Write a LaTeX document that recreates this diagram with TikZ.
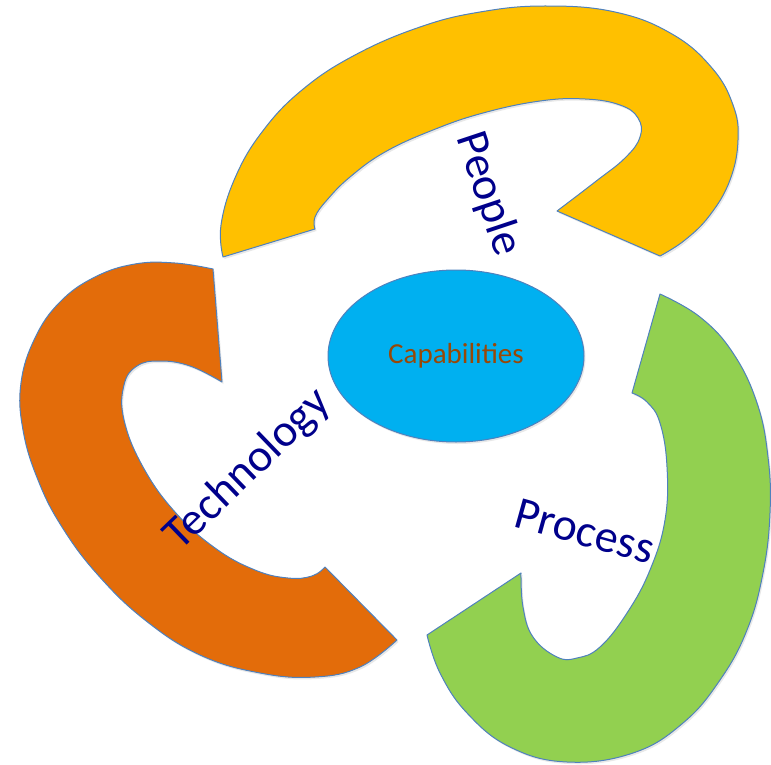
\documentclass[tikz,border=0pt]{standalone}
\usepackage{fontspec}
\setmainfont{Carlito}
\usetikzlibrary{shapes.geometric,shadows}
\definecolor{yel}{HTML}{FFC000}
\definecolor{org}{HTML}{E36C0A}
\definecolor{grn}{HTML}{92D050}
\definecolor{blu}{HTML}{00B0F0}
\definecolor{edgeblue}{HTML}{4F81BD}
\definecolor{navy}{HTML}{00008B}
\definecolor{brn}{HTML}{984807}
\begin{document}
\begin{tikzpicture}[x=1pt,y=-1pt,
  band/.style={draw=edgeblue, line width=1pt, line join=round,
    drop shadow={opacity=0.18, shadow xshift=1.5pt, shadow yshift=-2pt}},
  lbl/.style={text=navy, font=\fontsize{46}{55}\selectfont, inner sep=0pt}]
\useasboundingbox (0,0) rectangle (771,765);
% People band (yellow)
\path[band, fill=yel]
  plot[smooth, tension=0.7] coordinates {(223,257) (221,225) (235,178) (262,132) (302,90) (355,55) (420,27) (480,12) (545,6) (615,12) (672,34) (712,68) (733,105) (738,140) (730,180) (710,215) (685,240) (660,256)}
  -- plot[smooth, tension=0.7] coordinates {(557,211) (595,182) (625,158) (640,137) (638,118) (620,105) (585,99) (540,101) (483,113) (433,130) (385,152) (350,177) (327,200) (315,217) (315,229)}
  -- cycle;
% Technology band (orange)
\path[band, fill=org]
  plot[smooth, tension=0.7] coordinates {(213,269) (175,263) (135,264) (95,277) (60,302) (35,338) (21,383) (23,430) (38,480) (62,527) (98,575) (145,620) (200,655) (260,673) (315,677) (360,667) (397,640)}
  -- plot[smooth, tension=0.7] coordinates {(325,567) (312,576) (288,578) (255,570) (215,548) (175,512) (143,467) (124,420) (124,385) (137,366) (160,361) (190,366) (222,382)}
  -- cycle;
% Process band (green)
\path[band, fill=grn]
  plot[smooth, tension=0.7] coordinates {(660,294) (700,317) (733,353) (757,403) (768,457) (770,513) (763,573) (747,630) (720,680) (683,723) (633,753) (567,762) (510,747) (467,713) (440,673) (427,635)}
  -- plot[smooth, tension=0.7] coordinates {(521,573) (523,607) (533,637) (557,657) (577,658) (600,647) (627,613) (650,570) (665,520) (667,467) (660,423) (647,402) (632,393)}
  -- cycle;
% Centre
\node[ellipse, draw=edgeblue, line width=1pt, fill=blu, minimum width=256pt, minimum height=172pt, inner sep=0pt,
  drop shadow={opacity=0.18, shadow xshift=1.5pt, shadow yshift=-2pt},
  text=brn, font=\fontsize{29}{35}\selectfont] (cap) at (456,356) {Capabilities};
% Labels
\node[lbl, rotate=-71.6] (people) at (488,194) {People};
\node[lbl, rotate=44] (tech) at (248,470) {Technology};
\node[lbl, rotate=-15.5] (proc) at (585,531) {Process};
\end{tikzpicture}
\end{document}
